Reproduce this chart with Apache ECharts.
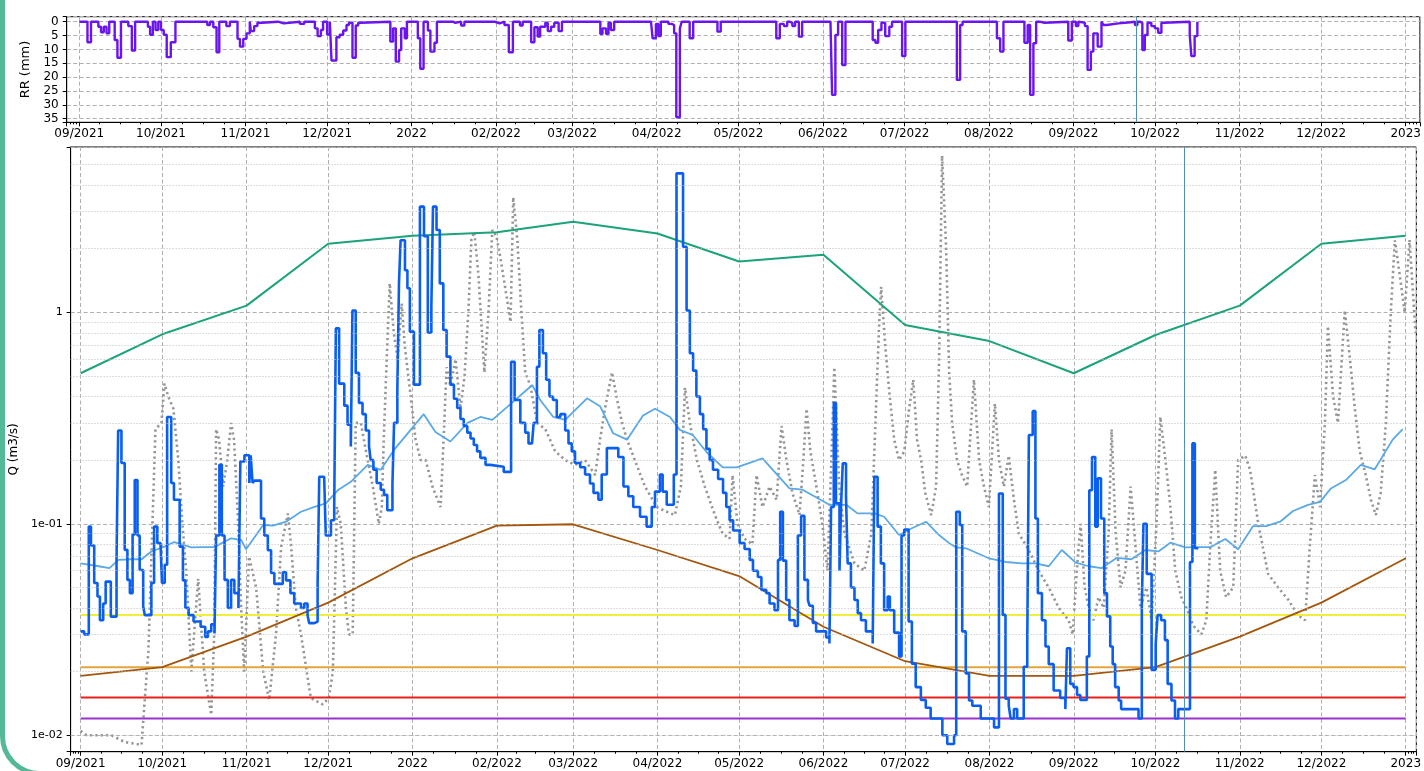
<!DOCTYPE html>
<html><head><meta charset="utf-8">
<script src="https://cdn.jsdelivr.net/npm/echarts@6/dist/echarts.min.js"></script>
<style>
html,body{margin:0;padding:0;background:#fff;overflow:hidden;width:1424px;height:771px}
#chart{position:absolute;left:0;top:0;width:1424px;height:771px}
#frame{position:absolute;left:0;top:-40px;width:1600px;height:816px;box-sizing:border-box;border:5px solid #55b896;border-radius:40px;pointer-events:none}
</style></head><body>
<div id="chart"></div><div id="frame"></div>
<script>
// ---------- DATA (days since 2021-09-01, value) ----------
const rainfall = [[0,0],[3,7.4],[4.3,0],[7,1.8],[8,3.8],[9,1.8],[10,4.2],[11,0],[13,6.6],[14,13],[15.3,0],[18,1.6],[19.3,10.4],[20.5,0],[25.2,1.8],[26,4.7],[27,0],[28,3],[29,0],[30,3],[31,4.7],[32.1,12.8],[33.6,7.4],[35.3,0],[47,1.2],[48,0],[49.2,2],[50.4,11],[51.4,0],[54,1.6],[55.3,0],[58.1,6.2],[59,9],[60.2,6.2],[61.4,4.2],[62.6,0],[63,3.4],[64.2,1.6],[65.4,0.4],[67,0],[73,0.6],[75,0],[81,0.8],[82.6,0],[86.5,2.4],[87.5,5.2],[88.7,3],[89.5,0],[91,4.6],[92,0],[92.6,14],[94.4,5.6],[95.6,4.7],[96.9,3.2],[98.1,1.2],[99,0.4],[100.3,13],[101.5,1.4],[102.4,0.4],[103.5,0],[114.2,7.2],[115.2,2.4],[116.2,14.4],[117.4,10.2],[118.2,2.4],[119.5,6],[120.3,0],[124.3,6],[125.2,17],[126.4,0],[128,3.2],[128.9,10.8],[130.4,7.6],[131.3,0],[137.2,0.4],[138.1,0],[140.2,1.4],[141.4,0],[152.4,0.6],[154.3,0],[156.1,1.2],[157.7,11],[159.2,0],[161.8,1.4],[162.8,0],[165.9,7.4],[167.1,2],[168.3,5.4],[169.2,1.8],[171.1,0.4],[172,3.4],[173.2,1.8],[174.4,0.4],[176,3.4],[177.2,0],[191.3,4.4],[192.1,2.4],[193.4,4.4],[194.3,0.4],[195.2,3],[196.4,0],[209.9,0.6],[210.5,6],[211.7,0.8],[212.6,5.2],[213.5,0],[216.3,0.8],[217.5,1.2],[218.4,4.2],[219.2,34.5],[220.5,2.4],[221.2,0],[224.1,6],[225.4,0],[234.3,3.6],[235.5,0],[255.9,6],[257.2,0.8],[258.7,1.6],[259.9,0],[260.8,0.4],[261.8,1.6],[262.8,0],[264.2,5.4],[265.4,0],[275.8,0.4],[276.4,26.4],[277.6,4.8],[278.6,0],[280.1,15.6],[281.3,0],[291.3,6.6],[292.3,7.6],[293.3,3],[294.5,0.4],[295.9,5.2],[297.4,1.8],[298.4,0],[302.1,12.4],[303.3,0],[322.2,21],[323.4,1.2],[324.3,0],[336.9,6],[338.1,10.8],[339.3,0],[347,7.6],[348.2,1.2],[349.1,26.4],[350.3,7.8],[351.3,0],[352.5,0.4],[354.4,0],[363.1,6.8],[364.4,0],[365.9,1.6],[366.8,0],[367.2,0.4],[369.2,1.6],[370.2,17.4],[371.4,10.8],[372.3,4.2],[373.9,9],[375.3,0],[376,1.2],[377.2,0.6],[381.5,0.2],[386,0],[387.6,1.2],[388.5,0],[389.4,0.4],[390.3,10.2],[391.2,4.8],[392.2,0.4],[393.6,1.6],[394.9,2.4],[396.1,4],[397.3,0.4],[398.3,0],[407.7,4.8],[408.3,12.4],[409.5,5.2],[410.5,0]];

const observedQ = [[0,0.031],[1.3,0.030],[3.0,0.097],[3.8,0.079],[5.0,0.0525],[6.2,0.0453],[7.1,0.035],[8.3,0.042],[9.2,0.0533],[11.1,0.0364],[13.2,0.0675],[13.8,0.276],[15.0,0.194],[16.2,0.0753],[17.2,0.0543],[18.1,0.047],[19.1,0.089],[19.9,0.161],[20.9,0.088],[21.7,0.0605],[23.0,0.0406],[23.6,0.037],[26.0,0.0525],[27.0,0.097],[28.2,0.081],[29.4,0.078],[29.9,0.0525],[30.9,0.064],[31.8,0.32],[33.3,0.156],[34.3,0.13],[36.4,0.078],[37.6,0.054],[38.5,0.04],[39.7,0.037],[41.5,0.0345],[44.1,0.0326],[45.8,0.0292],[46.8,0.031],[48.0,0.0335],[49.2,0.0303],[49.8,0.088],[51.0,0.19],[51.9,0.088],[52.9,0.0543],[54.1,0.04],[55.3,0.0543],[56.5,0.047],[58.0,0.04],[58.7,0.197],[60.2,0.211],[62.0,0.156],[62.5,0.211],[63.2,0.156],[63.9,0.16],[66.3,0.106],[67.5,0.088],[68.8,0.075],[70.0,0.0585],[71.2,0.052],[74.3,0.059],[75.5,0.054],[77.1,0.047],[78.5,0.042],[81.0,0.04],[82.2,0.042],[83.4,0.037],[84.0,0.0339],[85.9,0.0345],[87.1,0.0525],[87.7,0.167],[89.5,0.165],[90.1,0.088],[92.0,0.104],[93.2,0.12],[93.8,0.84],[95.0,0.46],[96.9,0.362],[98.1,0.294],[99.3,0.232],[99.9,1.02],[101.1,0.517],[102.3,0.373],[103.6,0.33],[104.8,0.276],[106.0,0.232],[106.6,0.2],[107.6,0.18],[108.8,0.156],[110.3,0.145],[111.5,0.137],[112.7,0.116],[114.6,0.154],[115.2,0.3],[116.4,0.43],[117.0,1.37],[117.6,2.19],[119.2,1.58],[120.1,1.3],[121.0,0.81],[122.5,0.455],[124.7,3.16],[126.2,2.29],[127.6,0.8],[128.9,1.06],[129.5,3.16],[130.8,2.45],[132.0,1.37],[133.3,0.825],[134.5,0.617],[135.9,0.455],[137.2,0.39],[138.4,0.353],[139.6,0.313],[140.8,0.29],[142.1,0.27],[143.3,0.253],[144.5,0.236],[145.7,0.22],[146.9,0.205],[148.8,0.19],[150.6,0.186],[155.5,0.176],[158.2,0.584],[159.5,0.385],[161.6,0.3],[163.4,0.27],[164.6,0.24],[165.9,0.236],[166.5,0.3],[167.7,0.553],[168.6,0.825],[169.9,0.64],[171.1,0.48],[172.3,0.4],[173.6,0.385],[175.0,0.32],[176.3,0.33],[178.1,0.276],[179.3,0.24],[180.5,0.22],[181.7,0.194],[183.6,0.185],[185.4,0.171],[187.2,0.155],[188.5,0.14],[190.3,0.13],[191.5,0.171],[193.4,0.228],[197.6,0.207],[199.5,0.15],[201.3,0.135],[203.1,0.12],[205.6,0.108],[208.0,0.097],[209.9,0.12],[211.1,0.142],[212.9,0.171],[213.9,0.142],[215.4,0.123],[218.0,0.171],[219.0,4.54],[221.4,2.04],[222.7,1.02],[223.9,0.64],[225.1,0.53],[226.3,0.4],[227.6,0.33],[228.8,0.28],[230.0,0.226],[231.2,0.2],[232.4,0.18],[234.3,0.163],[236.1,0.14],[237.3,0.12],[238.5,0.104],[239.8,0.093],[242.2,0.081],[244.0,0.076],[245.9,0.0675],[247.1,0.06],[248.9,0.056],[250.2,0.0487],[252.0,0.047],[253.2,0.042],[255.0,0.039],[256.3,0.0675],[257.1,0.114],[258.1,0.067],[259.3,0.0436],[260.5,0.035],[262.4,0.0329],[263.6,0.088],[264.8,0.109],[266.0,0.0543],[267.3,0.0436],[267.9,0.041],[269.1,0.034],[270.3,0.031],[274.0,0.029],[275.2,0.0272],[275.8,0.12],[276.8,0.372],[277.6,0.125],[278.9,0.06],[279.5,0.125],[280.1,0.193],[281.3,0.134],[281.9,0.065],[283.1,0.05],[284.4,0.0436],[285.6,0.0378],[286.8,0.035],[288.6,0.031],[291.1,0.0272],[291.7,0.167],[292.9,0.097],[294.1,0.065],[295.3,0.039],[296.6,0.0453],[297.4,0.039],[299.0,0.0306],[300.8,0.0236],[301.7,0.088],[302.7,0.094],[304.3,0.0345],[305.5,0.0218],[306.9,0.0169],[308.8,0.0147],[310.6,0.0135],[312.4,0.012],[316.7,0.01],[318.5,0.0091],[321.0,0.01],[321.8,0.114],[323.1,0.0987],[324.0,0.031],[325.3,0.0196],[326.5,0.0146],[327.7,0.0138],[330.8,0.012],[335.7,0.0109],[337.5,0.139],[338.9,0.0371],[339.9,0.0149],[341.1,0.0138],[341.8,0.012],[343.0,0.0133],[344.2,0.012],[346.6,0.0211],[347.9,0.027],[348.5,0.263],[349.9,0.341],[350.9,0.106],[351.8,0.047],[353.3,0.035],[354.6,0.0263],[355.8,0.0217],[357.6,0.0163],[360.0,0.015],[361.9,0.0133],[362.5,0.0258],[363.7,0.0175],[364.9,0.0169],[366.2,0.0155],[367.4,0.0147],[369.8,0.0236],[370.7,0.144],[371.7,0.207],[372.9,0.097],[373.8,0.164],[375.0,0.106],[376.2,0.047],[377.2,0.0365],[378.4,0.0263],[379.3,0.0217],[380.2,0.0169],[381.5,0.0146],[382.4,0.0133],[388.8,0.012],[390.0,0.0406],[390.6,0.1],[391.8,0.058],[393.6,0.0204],[395.1,0.027],[395.8,0.037],[397.1,0.035],[398.5,0.0282],[399.5,0.0175],[400.9,0.0146],[402.2,0.012],[403.4,0.0133],[407.7,0.066],[408.6,0.24],[409.5,0.0766],[410.8,0.0766]];

const otherQ = [[0,0.0105],[2.2,0.01],[11.4,0.01],[16.1,0.0093],[20.5,0.0091],[22.4,0.009],[23.5,0.0143],[24.9,0.025],[26.4,0.1],[27.5,0.28],[29.7,0.3],[30.8,0.46],[32.2,0.4],[34.1,0.35],[35.9,0.2],[37.4,0.1],[38.8,0.06],[40.7,0.02],[43.2,0.055],[45.4,0.02],[48.0,0.0125],[49.1,0.03],[49.8,0.28],[50.9,0.25],[52.4,0.15],[53.9,0.2],[55.3,0.3],[56.4,0.25],[57.9,0.1],[59.0,0.04],[60.1,0.02],[61.9,0.07],[64.5,0.05],[67.1,0.02],[69.3,0.0147],[71.8,0.03],[73.7,0.078],[76.2,0.112],[77.3,0.08],[79.1,0.04],[81.0,0.03],[84.6,0.015],[89.0,0.014],[91.2,0.015],[92.7,0.02],[94.2,0.12],[95.6,0.1],[97.5,0.04],[98.6,0.03],[100.0,0.03],[101.1,0.3],[103.0,0.3],[104.1,0.25],[105.5,0.2],[107.4,0.15],[109.6,0.1],[110.7,0.12],[111.4,0.25],[112.5,0.6],[113.6,1.37],[115.1,0.8],[116.5,0.6],[118.0,1.1],[119.1,0.7],[121.3,0.4],[123.1,0.25],[125.0,0.2],[126.8,0.2],[129.3,0.15],[132.3,0.12],[133.4,0.25],[134.5,0.55],[135.9,0.45],[137.8,0.6],[139.6,0.35],[141.1,0.5],[142.5,1.0],[143.6,2.2],[144.7,2.4],[146.2,1.5],[148.4,0.52],[149.9,1.0],[151.3,2.45],[152.8,2.3],[154.3,1.8],[156.5,1.2],[158.0,0.9],[159.0,3.5],[160.5,2.2],[162.0,1.0],[163.4,0.52],[165.3,0.45],[167.8,0.3],[170.8,0.28],[174.4,0.22],[178.1,0.2],[181.7,0.19],[185.4,0.2],[189.1,0.17],[190.9,0.25],[192.7,0.35],[195.3,0.52],[197.1,0.39],[199.0,0.3],[200.8,0.25],[203.7,0.2],[207.4,0.15],[211.8,0.12],[214.7,0.115],[218.4,0.11],[220.6,0.15],[222.1,0.44],[223.9,0.3],[226.5,0.2],[229.4,0.15],[233.1,0.11],[235.9,0.09],[238.5,0.085],[239.6,0.17],[241.4,0.1],[244.0,0.085],[246.9,0.08],[248.4,0.17],[250.6,0.12],[253.2,0.15],[255.8,0.13],[257.6,0.29],[259.4,0.2],[261.6,0.14],[264.2,0.11],[265.6,0.2],[266.8,0.35],[268.2,0.22],[270.4,0.15],[272.6,0.1],[274.5,0.06],[275.9,0.2],[277.0,0.55],[278.8,0.15],[280.7,0.09],[284.4,0.065],[288.0,0.06],[290.6,0.09],[292.1,0.3],[293.5,0.9],[294.2,1.32],[295.7,0.7],[297.2,0.42],[299.0,0.25],[300.8,0.2],[302.7,0.22],[304.5,0.35],[306.0,0.48],[307.4,0.25],[308.9,0.2],[310.4,0.14],[312.6,0.11],[314.4,0.15],[315.5,0.6],[316.6,5.5],[318.1,2.0],[319.2,0.52],[320.3,0.3],[322.1,0.2],[323.9,0.17],[325.8,0.15],[328.3,0.48],[330.2,0.2],[332.0,0.15],[333.8,0.12],[336.0,0.37],[337.5,0.2],[339.3,0.15],[341.1,0.21],[343.0,0.13],[344.8,0.09],[348.5,0.075],[352.1,0.06],[355.8,0.05],[359.5,0.04],[363.1,0.035],[364.6,0.03],[366.1,0.06],[367.5,0.1],[369.0,0.05],[370.5,0.04],[372.3,0.035],[374.1,0.045],[376.0,0.04],[377.8,0.09],[378.9,0.28],[380.4,0.09],[382.2,0.05],[384.0,0.06],[385.9,0.15],[387.3,0.09],[389.5,0.04],[391.7,0.05],[393.6,0.035],[395.4,0.1],[396.8,0.32],[398.7,0.2],[400.5,0.12],[402.3,0.06],[404.5,0.045],[406.4,0.04],[408.9,0.033],[411.9,0.03],[413.7,0.035],[415.2,0.08],[417.0,0.18],[418.8,0.06],[421.0,0.045],[423.6,0.05],[425.4,0.2],[428.0,0.21],[429.8,0.18],[432.8,0.1],[436.4,0.058],[440.1,0.05],[443.7,0.044],[447.4,0.037],[450.0,0.035],[451.8,0.08],[453.6,0.17],[455.5,0.12],[457.3,0.3],[458.4,0.86],[460.3,0.4],[462.1,0.3],[463.5,0.6],[464.6,1.02],[466.5,0.6],[468.3,0.35],[470.1,0.22],[472.3,0.17],[474.2,0.13],[476.0,0.11],[477.8,0.14],[479.7,0.3],[481.5,1.0],[483.0,2.19],[484.8,1.5],[486.6,1.0],[488.4,2.2],[490.6,0.8]];

const medianQ = [[0,0.065],[6.6,0.063],[10.6,0.0617],[13.9,0.0675],[18.7,0.068],[22.4,0.068],[26.0,0.074],[30.8,0.078],[34.4,0.082],[40.7,0.0774],[44.3,0.0776],[49.1,0.0776],[55.3,0.0854],[59.0,0.084],[60.8,0.0758],[67.1,0.0987],[70.7,0.098],[75.5,0.1023],[81.0,0.114],[85.7,0.12],[90.1,0.125],[94.5,0.144],[99.3,0.158],[105.5,0.19],[110.3,0.18],[115.1,0.223],[126.1,0.33],[130.4,0.272],[135.9,0.245],[142.2,0.3],[146.9,0.32],[151.3,0.31],[156.8,0.357],[166.0,0.453],[168.9,0.385],[173.7,0.32],[178.1,0.31],[186.1,0.392],[190.9,0.36],[195.7,0.268],[200.8,0.25],[206.7,0.325],[211.1,0.35],[216.6,0.32],[220.2,0.278],[225.0,0.263],[230.1,0.218],[236.0,0.185],[241.1,0.185],[250.6,0.204],[260.5,0.147],[265.3,0.145],[275.2,0.123],[281.4,0.123],[285.5,0.112],[291.7,0.112],[295.3,0.108],[300.8,0.0885],[304.5,0.094],[310.7,0.1023],[315.5,0.0885],[319.2,0.081],[321.7,0.0774],[325.4,0.0766],[333.8,0.0687],[340.0,0.066],[345.9,0.065],[351.0,0.065],[355.8,0.063],[360.6,0.0752],[365.7,0.0655],[370.5,0.063],[375.2,0.0617],[380.7,0.069],[386.2,0.068],[391.3,0.0752],[396.1,0.074],[400.5,0.0814],[406.0,0.0774],[410.8,0.0776],[415.2,0.0776],[420.7,0.0847],[425.4,0.0758],[430.9,0.0976],[435.7,0.0976],[440.8,0.1023],[445.6,0.115],[451.1,0.123],[455.5,0.127],[459.5,0.147],[465.0,0.161],[470.5,0.19],[475.6,0.181],[482.2,0.25],[485.9,0.28]];

const months = ['2021-09-01','2021-10-01','2021-11-01','2021-12-01','2022-01-01','2022-02-01','2022-03-01','2022-04-01','2022-05-01','2022-06-01','2022-07-01','2022-08-01','2022-09-01','2022-10-01','2022-11-01','2022-12-01','2023-01-01'];
const highQ = [0.515,0.787,1.075,2.11,2.30,2.39,2.68,2.36,1.74,1.87,0.871,0.731,0.515,0.781,1.075,2.11,2.30];
const lowQ  = [0.0191,0.021,0.0293,0.0424,0.0687,0.098,0.0995,0.0752,0.0566,0.0326,0.0224,0.0191,0.0191,0.021,0.0293,0.0424,0.0687];

const thresholdValues = [0.0371, 0.021, 0.0151, 0.012];
const thresholdColors = ['#f2ee3a', '#e3a43a', '#e8201c', '#9932cc'];
const minorGridValues = [0.009,0.02,0.03,0.04,0.05,0.06,0.07,0.08,0.09,0.2,0.3,0.4,0.5,0.6,0.7,0.8,0.9,2,3,4,5,6];
const markerTopDay = 388.1, markerBottomDay = 405.5;

// ---------- helpers ----------
const BASE = new Date(2021, 8, 1).getTime();
const DAY = 86400000;
const t = d => BASE + d * DAY;
const pd = s => { const [y,m,d] = s.split('-').map(Number); return new Date(y, m-1, d).getTime(); };
const pairs = arr => arr.map(([d, v]) => [t(d), v]);
const FONT = 'DejaVu Sans';

const fmtDate = v => {
  const d = new Date(v);
  if (d.getDate() !== 1 || d.getHours() !== 0 || d.getMinutes() !== 0) return '';
  const m = d.getMonth();
  return m === 0 ? String(d.getFullYear()) : String(m + 1).padStart(2, '0') + '/' + d.getFullYear();
};
const gridLine = { show: true, lineStyle: { color: '#b0b0b0', width: 1, type: [4, 2.5] } };

function xAxis(gi, minD, maxD) {
  return {
    type: 'time', gridIndex: gi, min: t(minD), max: t(maxD),
    minInterval: 28 * DAY, maxInterval: 31 * DAY, splitNumber: 16,
    axisLine: { show: true, onZero: false, lineStyle: { color: '#000', width: 1 } },
    axisTick: { show: true, length: 4, lineStyle: { color: '#000' } },
    minorTick: { show: true, splitNumber: 4, length: 2, lineStyle: { color: '#000' } },
    axisLabel: { formatter: fmtDate, fontFamily: FONT, fontSize: 12, color: '#000', margin: 6, hideOverlap: false },
    splitLine: gridLine
  };
}

const option = {
  animation: false,
  backgroundColor: '#fff',
  grid: [
    { left: 66.7, right: 2.3, top: 16.7, height: 105.6, show: true, borderColor: '#000', borderWidth: 1 },
    { left: 69.3, right: 6, top: 147, height: 604.7, show: true, borderColor: '#000', borderWidth: 1 }
  ],
  xAxis: [ xAxis(0, -4.62, 492.2), xAxis(1, -3.67, 490.9) ],
  yAxis: [
    {
      type: 'value', gridIndex: 0, inverse: true, min: -1.8, max: 36.3, splitNumber: 8,
      name: 'RR (mm)', nameLocation: 'middle', nameGap: 29,
      nameTextStyle: { fontFamily: FONT, fontSize: 13, color: '#000' },
      axisLine: { show: true, lineStyle: { color: '#000' } },
      axisTick: { show: true, length: 4, lineStyle: { color: '#000' } },
      axisLabel: { fontFamily: FONT, fontSize: 12, color: '#000', margin: 8,
        formatter: v => (Math.abs(v % 5) < 1e-9 ? String(Math.round(v)) : '') },
      splitLine: gridLine
    },
    {
      type: 'log', logBase: 10, gridIndex: 1, min: 0.008366, max: 6.048,
      name: 'Q (m3/s)', nameLocation: 'middle', nameGap: 45,
      nameTextStyle: { fontFamily: FONT, fontSize: 12, color: '#000' },
      axisLine: { show: true, lineStyle: { color: '#000' } },
      axisTick: { show: true, length: 4, lineStyle: { color: '#000' } },
      axisLabel: { fontFamily: FONT, fontSize: 11, color: '#000', margin: 8,
        formatter: v => {
          const e = Math.log10(v), r = Math.round(e);
          if (Math.abs(e - r) > 1e-6) return '';
          if (r === 0) return '1';
          return '1e' + (r < 0 ? '-' : '+') + String(Math.abs(r)).padStart(2, '0');
        } },
      splitLine: gridLine
    }
  ],
  series: [
    {
      type: 'line', name: 'RR', xAxisIndex: 0, yAxisIndex: 0, step: 'end', symbol: 'none',
      data: pairs(rainfall), lineStyle: { color: '#6a14f0', width: 2.4 },
      markLine: { silent: true, symbol: ['none','none'], label: { show: false },
        lineStyle: { color: '#4f8fb5', width: 1, type: 'solid' }, data: [{ xAxis: t(markerTopDay) }] }
    },
    {
      type: 'line', name: 'other', xAxisIndex: 1, yAxisIndex: 1, symbol: 'none',
      data: pairs(otherQ), lineStyle: { color: '#959595', width: 2.6, type: [2.2, 3.2] },
      markLine: { silent: true, symbol: ['none','none'], label: { show: false },
        lineStyle: { color: '#bdbdbd', width: 1, type: [1, 2] },
        data: minorGridValues.map(v => ({ yAxis: v })) }
    },
    ...thresholdValues.map((v, i) => ({
      type: 'line', xAxisIndex: 1, yAxisIndex: 1, symbol: 'none',
      data: [[pd(months[0]), v], [pd(months[months.length - 1]), v]],
      lineStyle: { color: thresholdColors[i], width: 2 }
    })),
    {
      type: 'line', name: 'median', xAxisIndex: 1, yAxisIndex: 1, symbol: 'none',
      data: pairs(medianQ), lineStyle: { color: '#5aa9e6', width: 1.8 }
    },
    {
      type: 'line', name: 'high', xAxisIndex: 1, yAxisIndex: 1, symbol: 'none',
      data: months.map((m, i) => [pd(m), highQ[i]]), lineStyle: { color: '#1ba37a', width: 2 }
    },
    {
      type: 'line', name: 'low', xAxisIndex: 1, yAxisIndex: 1, symbol: 'none',
      data: months.map((m, i) => [pd(m), lowQ[i]]), lineStyle: { color: '#a4560c', width: 1.8 }
    },
    {
      type: 'line', name: 'Q', xAxisIndex: 1, yAxisIndex: 1, step: 'end', symbol: 'none',
      data: pairs(observedQ), lineStyle: { color: '#0a5ff0', width: 2.6 },
      markLine: { silent: true, symbol: ['none','none'], label: { show: false },
        lineStyle: { color: '#4f8fb5', width: 1, type: 'solid' }, data: [{ xAxis: t(markerBottomDay) }] }
    }
  ]
};
const chart = echarts.init(document.getElementById('chart'), null, { renderer: 'canvas', devicePixelRatio: 1 });
chart.setOption(option);
</script></body></html>
